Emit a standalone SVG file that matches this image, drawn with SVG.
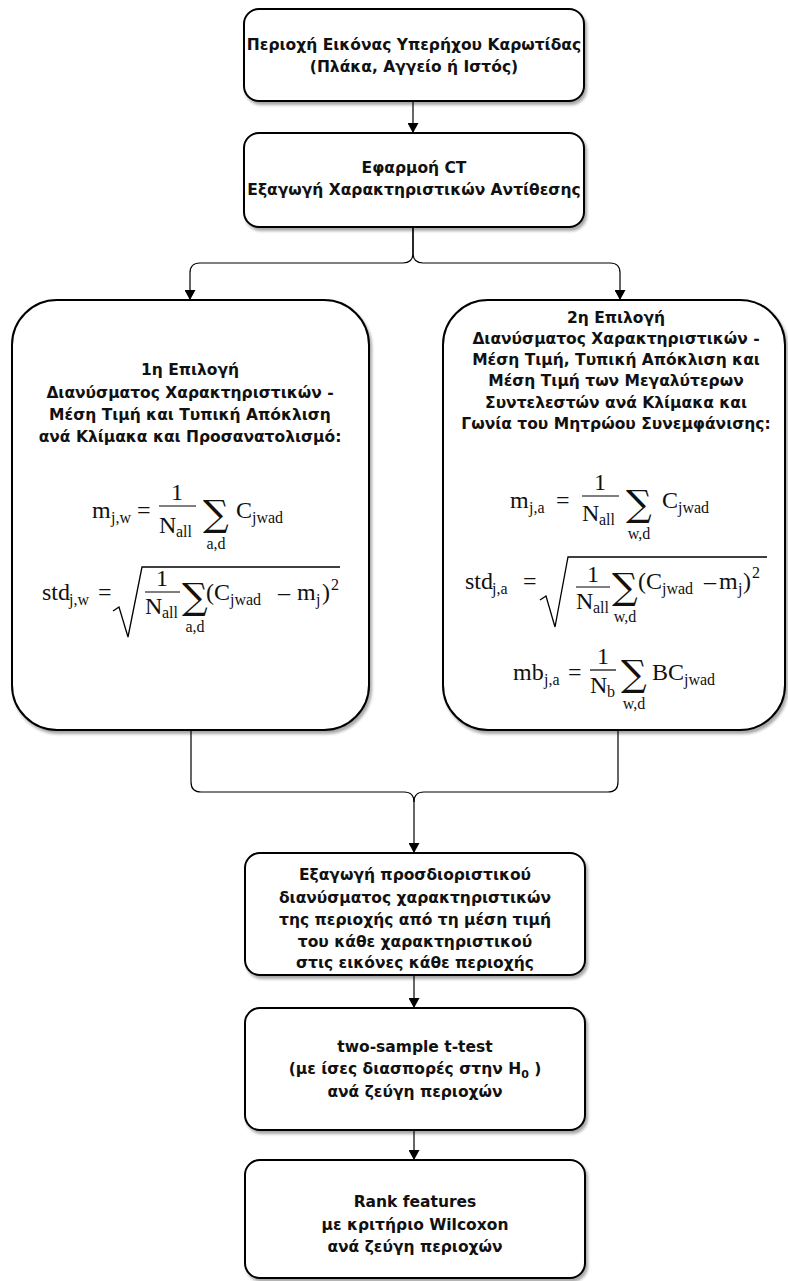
<svg xmlns="http://www.w3.org/2000/svg" width="788" height="1281" viewBox="0 0 788 1281">
<defs>
<style>
.box{fill:#fff;stroke:#000;stroke-width:2;filter:url(#sh)}
.t{font-family:"DejaVu Sans","Liberation Sans",sans-serif;font-weight:bold;font-size:15.5px;text-anchor:middle;fill:#111}
.m{font-family:"Liberation Serif","DejaVu Serif",serif;font-size:24px;fill:#111}
.s{font-family:"Liberation Serif","DejaVu Serif",serif;font-size:16px;fill:#111}
.c{text-anchor:middle}
.sum{font-family:"DejaVu Serif","Liberation Serif",serif;font-size:36px;fill:#111}
.conn{fill:none;stroke:#000;stroke-width:1.2}
.fl{stroke:#000;stroke-width:1.2}
.rad{fill:none;stroke:#000;stroke-width:1.3}
</style>
<filter id="sh" x="-5%" y="-5%" width="115%" height="115%">
<feGaussianBlur in="SourceAlpha" stdDeviation="1.5"/>
<feOffset dx="2" dy="3" result="o"/>
<feComponentTransfer><feFuncA type="linear" slope="0.35"/></feComponentTransfer>
<feMerge><feMergeNode/><feMergeNode in="SourceGraphic"/></feMerge>
</filter>
<marker id="ar" markerUnits="userSpaceOnUse" markerWidth="10" markerHeight="11" refX="10" refY="5.5" orient="auto">
<path d="M0,0 L10,5.5 L0,11 z" fill="#000"/>
</marker>
</defs>

<g id="connectors">
<path class="conn" d="M413,101 V133" marker-end="url(#ar)"/>
<path class="conn" d="M413,227 V253 Q413,263 403,263 H200 Q190,263 190,273 V300" marker-end="url(#ar)"/>
<path class="conn" d="M413,227 V253 Q413,263 423,263 H610 Q620,263 620,273 V300" marker-end="url(#ar)"/>
<path class="conn" d="M191,730 V782 Q191,792 201,792 H404 Q414,792 414,802"/>
<path class="conn" d="M618,730 V782 Q618,792 608,792 H424 Q414,792 414,802"/>
<path class="conn" d="M414,802 V853" stroke-width="2" marker-end="url(#ar)"/>
<path class="conn" d="M414,975 V1008" marker-end="url(#ar)"/>
<path class="conn" d="M414,1130 V1160" marker-end="url(#ar)"/>
</g>

<g id="n1">
<rect class="box" x="244" y="9" width="340" height="92" rx="15"/>
<text class="t" x="414" y="50">Περιοχή Εικόνας Υπερήχου Καρωτίδας</text>
<text class="t" x="414" y="72">(Πλάκα, Αγγείο ή Ιστός)</text>
</g>

<g id="n2">
<rect class="box" x="244" y="133" width="340" height="94" rx="15"/>
<text class="t" x="414" y="173">Εφαρμοή CT</text>
<text class="t" x="414" y="195">Εξαγωγή Χαρακτηριστικών Αντίθεσης</text>
</g>

<g id="n3">
<rect class="box" x="12" y="300" width="357" height="430" rx="45"/>
<text class="t" x="190" y="375" font-size="16">1η Επιλογή</text>
<text class="t" x="190" y="398" font-size="16">Διανύσματος Χαρακτηριστικών -</text>
<text class="t" x="190" y="420" font-size="16">Μέση Τιμή και Τυπική Απόκλιση</text>
<text class="t" x="190" y="442" font-size="16">ανά Κλίμακα και Προσανατολισμό:</text>

<text class="m" x="92" y="518">m</text><text class="s" x="111" y="523">j,w</text>
<text class="m" x="137" y="518">=</text>
<text class="m c" x="177" y="500" font-size="22">1</text>
<line class="fl" x1="159" y1="506" x2="196" y2="506"/>
<text class="m" x="159" y="533">N</text><text class="s" x="176" y="537">all</text>
<text class="sum" x="203" y="526">∑</text>
<text class="s c" x="216" y="549">a,d</text>
<text class="m" x="236" y="518">C</text><text class="s" x="252" y="523">jwad</text>

<text class="m" x="42" y="600">std</text><text class="s" x="69" y="605">j,w</text>
<text class="m" x="98" y="600">=</text>
<path class="rad" d="M113,611 L119,607 L128,637 L142,567 H340"/>
<text class="m c" x="162" y="586" font-size="22">1</text>
<line class="fl" x1="145" y1="592" x2="180" y2="592"/>
<text class="m" x="145" y="614">N</text><text class="s" x="162" y="618">all</text>
<text class="sum" x="182" y="609">∑</text>
<text class="s c" x="195" y="632">a,d</text>
<text class="m" x="206" y="600">(C</text><text class="s" x="230" y="605">jwad</text>
<text class="m" x="278" y="600">–</text>
<text class="m" x="297" y="600">m</text><text class="s" x="316" y="605">j</text>
<text class="m" x="322" y="600">)</text><text class="s" x="331" y="590">2</text>
</g>

<g id="n4">
<rect class="box" x="443" y="300" width="342" height="430" rx="45"/>
<text class="t" x="616" y="323" font-size="16.5">2η Επιλογή</text>
<text class="t" x="616" y="344" font-size="16.5">Διανύσματος Χαρακτηριστικών -</text>
<text class="t" x="616" y="365" font-size="16.5">Μέση Τιμή, Τυπική Απόκλιση και</text>
<text class="t" x="616" y="386" font-size="16.5">Μέση Τιμή των Μεγαλύτερων</text>
<text class="t" x="616" y="408" font-size="16.5">Συντελεστών ανά Κλίμακα και</text>
<text class="t" x="616" y="429" font-size="16.5">Γωνία του Μητρώου Συνεμφάνισης:</text>

<text class="m" x="510" y="508">m</text><text class="s" x="529" y="513">j,a</text>
<text class="m" x="556" y="508">=</text>
<text class="m c" x="600" y="490" font-size="22">1</text>
<line class="fl" x1="582" y1="496" x2="619" y2="496"/>
<text class="m" x="582" y="521">N</text><text class="s" x="599" y="525">all</text>
<text class="sum" x="626" y="516">∑</text>
<text class="s c" x="639" y="539">w,d</text>
<text class="m" x="662" y="508">C</text><text class="s" x="678" y="513">jwad</text>

<text class="m" x="465" y="589">std</text><text class="s" x="492" y="594">j,a</text>
<text class="m" x="523" y="589">=</text>
<path class="rad" d="M540,600 L546,596 L555,627 L568,557 H767"/>
<text class="m c" x="593" y="582" font-size="22">1</text>
<line class="fl" x1="576" y1="587" x2="610" y2="587"/>
<text class="m" x="576" y="609">N</text><text class="s" x="593" y="613">all</text>
<text class="sum" x="612" y="599">∑</text>
<text class="s c" x="625" y="622">w,d</text>
<text class="m" x="638" y="589">(C</text><text class="s" x="662" y="594">jwad</text>
<text class="m" x="704" y="589">–</text>
<text class="m" x="719" y="589">m</text><text class="s" x="738" y="594">j</text>
<text class="m" x="743" y="589">)</text><text class="s" x="752" y="578">2</text>

<text class="m" x="513" y="680">mb</text><text class="s" x="544" y="685">j,a</text>
<text class="m" x="568" y="680">=</text>
<text class="m c" x="603" y="664" font-size="22">1</text>
<line class="fl" x1="590" y1="670" x2="616" y2="670"/>
<text class="m" x="590" y="693">N</text><text class="s" x="607" y="697">b</text>
<text class="sum" x="621" y="686">∑</text>
<text class="s c" x="634" y="709">w,d</text>
<text class="m" x="652" y="680">BC</text><text class="s" x="684" y="685">jwad</text>
</g>

<g id="n5">
<rect class="box" x="245" y="853" width="340" height="122" rx="15"/>
<text class="t" x="415" y="880" font-size="15">Εξαγωγή προσδιοριστικού</text>
<text class="t" x="415" y="903" font-size="15">διανύσματος χαρακτηριστικών</text>
<text class="t" x="415" y="925" font-size="15">της περιοχής από τη μέση τιμή</text>
<text class="t" x="415" y="947" font-size="15">του κάθε χαρακτηριστικού</text>
<text class="t" x="415" y="968" font-size="15">στις εικόνες κάθε περιοχής</text>
</g>

<g id="n6">
<rect class="box" x="245" y="1008" width="340" height="122" rx="15"/>
<text class="t" x="415" y="1052">two-sample t-test</text>
<text class="t" x="415" y="1074">(με ίσες διασπορές στην H<tspan font-size="11" dy="4">0</tspan><tspan dy="-4"> )</tspan></text>
<text class="t" x="415" y="1097">ανά ζεύγη περιοχών</text>
</g>

<g id="n7">
<rect class="box" x="245" y="1160" width="340" height="118" rx="15"/>
<text class="t" x="415" y="1207">Rank features</text>
<text class="t" x="415" y="1230">με κριτήριο Wilcoxon</text>
<text class="t" x="415" y="1252">ανά ζεύγη περιοχών</text>
</g>
</svg>
